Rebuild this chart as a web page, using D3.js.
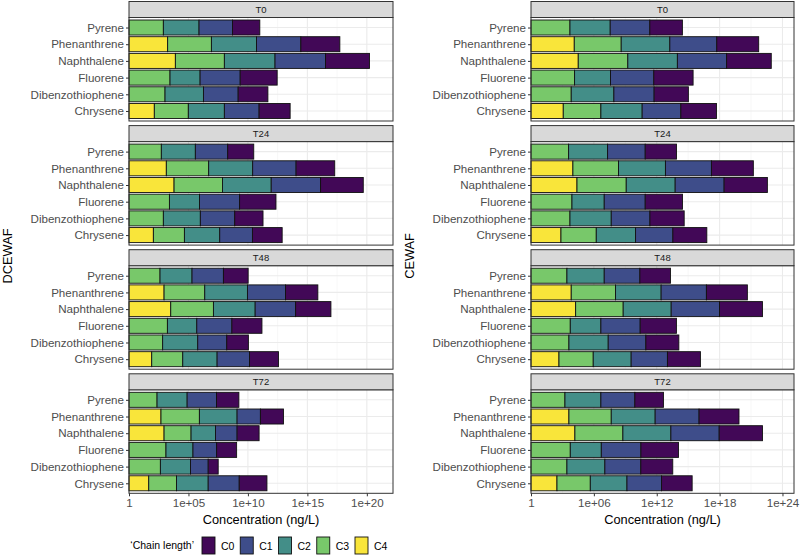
<!DOCTYPE html>
<html>
<head>
<meta charset="utf-8">
<script src="https://cdn.jsdelivr.net/npm/d3@7"></script>
<style>
  html, body { margin: 0; padding: 0; background: #fff; }
  svg { display: block; font-family: "Liberation Sans", Arial, Helvetica, sans-serif; }
</style>
</head>
<body>
<svg id="chart" width="800" height="556"></svg>
<script>
// ---------- DATA ----------
// Categories (top to bottom in each panel)
const categories = ["Pyrene", "Phenanthrene", "Naphthalene", "Fluorene", "Dibenzothiophene", "Chrysene"];
// Stack order (left to right)
const chainLengths = ["C4", "C3", "C2", "C1", "C0"];
const legendOrder = ["C0", "C1", "C2", "C3", "C4"];
const timepoints = ["T0", "T24", "T48", "T72"];
const treatments = ["DCEWAF", "CEWAF"];

// log10 concentration (ng/L) per chain length, columns = [C4, C3, C2, C1, C0]; null = not measured
const dcewafT0 = [
  [null, 2.89, 3.00, 2.81, 2.30],
  [3.25, 3.68, 3.79, 3.73, 3.28],
  [3.90, 4.12, 4.26, 4.24, 3.70],
  [null, 3.45, 2.53, 3.37, 3.11],
  [null, 3.03, 3.23, 2.92, 2.50],
  [2.13, 2.86, 3.03, 2.92, 2.61]
];
const dcewafT24 = [
  [null, 2.72, 2.86, 2.72, 2.19],
  [3.14, 3.56, 3.70, 3.65, 3.25],
  [3.79, 4.07, 4.10, 4.15, 3.59],
  [null, 3.40, 2.53, 3.37, 3.06],
  [null, 2.89, 3.11, 2.89, 2.38],
  [2.05, 2.61, 2.97, 2.75, 2.50]
];
const dcewafT48 = [
  [null, 2.61, 2.69, 2.64, 2.08],
  [2.95, 3.42, 3.59, 3.20, 2.72],
  [3.51, 3.59, 3.51, 3.40, 2.97],
  [null, 3.23, 2.47, 2.95, 2.53],
  [null, 2.83, 2.95, 2.44, 1.82],
  [1.91, 2.61, 2.89, 2.72, 2.44]
];
const dcewafT72 = [
  [null, 2.36, 2.53, 2.47, 1.88],
  [2.69, 3.23, 3.17, 1.96, 1.94],
  [2.95, 2.27, 2.05, 1.82, 1.85],
  [null, 3.11, 2.27, 1.99, 1.68],
  [null, 2.64, 2.53, 1.49, 0.84],
  [1.66, 2.33, 2.67, 2.61, 2.33]
];
const cewafT0 = [
  [null, 3.72, 3.84, 3.78, 3.11],
  [4.13, 4.48, 4.64, 4.48, 4.00],
  [4.51, 4.73, 4.73, 4.70, 4.26],
  [null, 4.16, 3.43, 4.13, 3.75],
  [null, 3.84, 4.07, 3.84, 3.27],
  [3.08, 3.59, 3.94, 3.69, 3.40]
];
const cewafT24 = [
  [null, 3.59, 3.72, 3.59, 2.99],
  [4.00, 4.35, 4.48, 4.39, 4.00],
  [4.39, 4.70, 4.67, 4.67, 4.13],
  [null, 3.91, 3.08, 3.91, 3.56],
  [null, 3.72, 3.94, 3.69, 3.27],
  [2.86, 3.37, 3.75, 3.56, 3.24]
];
const cewafT48 = [
  [null, 3.43, 3.56, 3.40, 2.92],
  [3.84, 4.23, 4.35, 4.32, 3.91],
  [4.26, 4.54, 4.58, 4.61, 4.10],
  [null, 3.75, 2.92, 3.75, 3.46],
  [null, 3.62, 3.75, 3.59, 3.15],
  [2.67, 3.27, 3.62, 3.46, 3.15]
];
const cewafT72 = [
  [null, 3.24, 3.43, 3.24, 2.73],
  [3.62, 4.04, 4.19, 4.19, 3.81],
  [4.19, 4.58, 4.58, 4.61, 4.13],
  [null, 3.75, 2.96, 3.78, 3.59],
  [null, 3.43, 3.62, 3.43, 3.05],
  [2.48, 3.18, 3.50, 3.30, 2.92]
];

const leftTicks = [1, 1e5, 1e10, 1e15, 1e20];
const leftTickLabels = ["1", "1e+05", "1e+10", "1e+15", "1e+20"];
const rightTicks = [1, 1e6, 1e12, 1e18, 1e24];
const rightTickLabels = ["1", "1e+06", "1e+12", "1e+18", "1e+24"];

const fillColors = { C0: "#420857", C1: "#3E4D8A", C2: "#438E88", C3: "#78C86A", C4: "#F9E53A" };

// ---------- LAYOUT ----------
const svg = d3.select("#chart");
const columns = [
  { name: "DCEWAF", x0: 129, x1: 393, maxExp: 22.2, ticks: leftTicks, labels: leftTickLabels,
    data: [dcewafT0, dcewafT24, dcewafT48, dcewafT72], titleX: 8 },
  { name: "CEWAF", x0: 531, x1: 794, maxExp: 25.1, ticks: rightTicks, labels: rightTickLabels,
    data: [cewafT0, cewafT24, cewafT48, cewafT72], titleX: 410 }
];
const firstPanelBottom = 121, period = 124.1, panelH = 103.5, stripH = 16;
const grid = "#EBEBEB", border = "#333333", textCol = "#4D4D4D";

columns.forEach(col => {
  const x = d3.scaleLog().domain([1, Math.pow(10, col.maxExp)]).range([col.x0, col.x1]);
  const minorTicks = [];
  for (let i = 0; i < col.ticks.length; i++) {
    const a = Math.log10(col.ticks[i]);
    const step = Math.log10(col.ticks[1]);
    const m = a + step / 2;
    if (m < col.maxExp) minorTicks.push(Math.pow(10, m));
  }
  timepoints.forEach((tp, ti) => {
    const pb = firstPanelBottom + ti * period;
    const pt = pb - panelH;
    const y = d3.scalePoint().domain(categories).range([pt, pb]).padding(0.6);
    const bandH = y.step() * 0.9;
    const g = svg.append("g");

    // panel background
    g.append("rect").attr("x", col.x0).attr("y", pt).attr("width", col.x1 - col.x0).attr("height", panelH)
      .attr("fill", "#fff");
    // minor grid
    g.selectAll(".minor").data(minorTicks).join("line")
      .attr("x1", d => x(d)).attr("x2", d => x(d)).attr("y1", pt).attr("y2", pb)
      .attr("stroke", "#F2F2F2").attr("stroke-width", 0.6);
    // major grid
    g.selectAll(".major").data(col.ticks).join("line")
      .attr("x1", d => x(d)).attr("x2", d => x(d)).attr("y1", pt).attr("y2", pb)
      .attr("stroke", grid).attr("stroke-width", 1.1);
    g.selectAll(".hgrid").data(categories).join("line")
      .attr("x1", col.x0).attr("x2", col.x1).attr("y1", d => y(d)).attr("y2", d => y(d))
      .attr("stroke", grid).attr("stroke-width", 1.1);

    // stacked bars (stacking in log space)
    const rows = col.data[ti];
    categories.forEach((cat, ci) => {
      let cum = 0;
      chainLengths.forEach((cl, k) => {
        const v = rows[ci][k];
        if (v == null) return;
        const start = cum, end = cum + v;
        cum = end;
        g.append("rect")
          .attr("x", x(Math.pow(10, start)))
          .attr("width", x(Math.pow(10, end)) - x(Math.pow(10, start)))
          .attr("y", y(cat) - bandH / 2)
          .attr("height", bandH)
          .attr("fill", fillColors[cl])
          .attr("stroke", "#111")
          .attr("stroke-width", 0.9);
      });
    });

    // panel border
    g.append("rect").attr("x", col.x0).attr("y", pt).attr("width", col.x1 - col.x0).attr("height", panelH)
      .attr("fill", "none").attr("stroke", border).attr("stroke-width", 1);

    // strip
    g.append("rect").attr("x", col.x0).attr("y", pt - stripH).attr("width", col.x1 - col.x0).attr("height", stripH)
      .attr("fill", "#D9D9D9").attr("stroke", border).attr("stroke-width", 1);
    g.append("text").attr("x", (col.x0 + col.x1) / 2).attr("y", pt - stripH / 2)
      .attr("text-anchor", "middle").attr("dominant-baseline", "central")
      .attr("font-size", 9.5).attr("fill", "#1A1A1A").text(tp);

    // y axis
    const yAxis = d3.axisLeft(y).tickSize(3).tickPadding(2);
    const ya = g.append("g").attr("transform", `translate(${col.x0},0)`).call(yAxis);
    ya.select(".domain").remove();
    ya.selectAll(".tick line").attr("stroke", border);
    ya.selectAll(".tick text").attr("font-size", 11.6).attr("fill", textCol)
      .attr("font-family", "Liberation Sans, Arial, sans-serif");

    // x axis on bottom panel only
    if (ti === timepoints.length - 1) {
      const xAxis = d3.axisBottom(x).tickValues(col.ticks)
        .tickFormat((d, i) => col.labels[i]).tickSize(3).tickPadding(2);
      const xa = g.append("g").attr("transform", `translate(0,${pb})`).call(xAxis);
      xa.select(".domain").remove();
      xa.selectAll(".tick line").attr("stroke", border);
      xa.selectAll(".tick text").attr("font-size", 11.6).attr("fill", textCol)
        .attr("font-family", "Liberation Sans, Arial, sans-serif");
      g.append("text").attr("x", (col.x0 + col.x1) / 2).attr("y", pb + 31)
        .attr("text-anchor", "middle").attr("font-size", 12.8).attr("fill", "#000")
        .text("Concentration (ng/L)");
    }
  });
  // y title
  svg.append("text")
    .attr("transform", `translate(${col.titleX + 4},256) rotate(-90)`)
    .attr("text-anchor", "middle").attr("font-size", 12.8).attr("fill", "#000")
    .text(col.name);
});

// ---------- LEGEND ----------
const lg = svg.append("g");
lg.append("text").attr("x", 194).attr("y", 545).attr("text-anchor", "end")
  .attr("dominant-baseline", "central").attr("font-size", 10.5).attr("fill", "#000")
  .text("\u2018Chain length\u2019");
const legendX = d3.scalePoint().domain(legendOrder).range([202, 355]);
legendOrder.forEach(cl => {
  lg.append("rect").attr("x", legendX(cl)).attr("y", 537).attr("width", 13).attr("height", 17)
    .attr("fill", fillColors[cl]).attr("stroke", "#111").attr("stroke-width", 0.9);
  lg.append("text").attr("x", legendX(cl) + 19).attr("y", 545.5)
    .attr("dominant-baseline", "central").attr("font-size", 10.5).attr("fill", "#000").text(cl);
});
</script>
</body>
</html>
